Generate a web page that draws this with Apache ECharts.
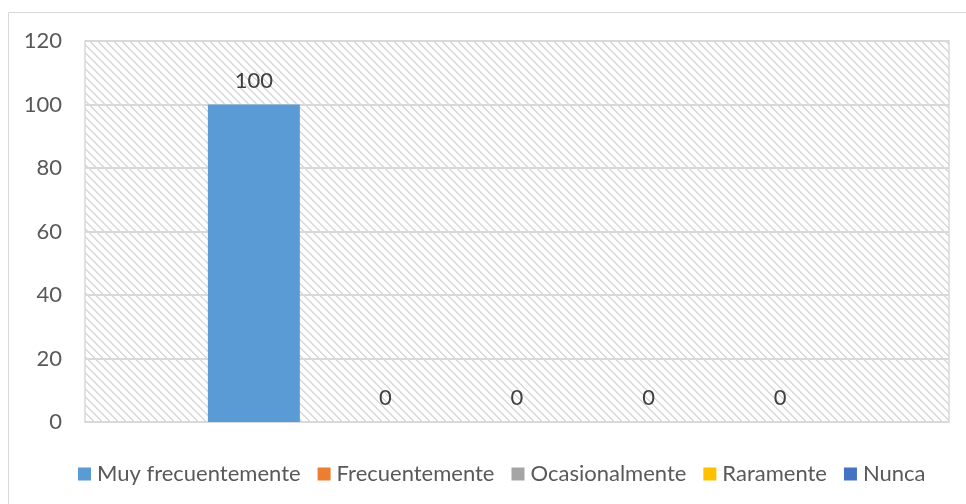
<!DOCTYPE html>
<html><head><meta charset="utf-8">
<script src="https://cdn.jsdelivr.net/npm/echarts@6/dist/echarts.min.js"></script>
<style>html,body{margin:0;padding:0;background:#fff}#c{width:966px;height:504px}</style>
</head><body><div id="c"></div><script>
const categories = [''];
const seriesNames = ['Muy frecuentemente', 'Frecuentemente', 'Ocasionalmente', 'Raramente', 'Nunca'];
const seriesValues = [[100], [0], [0], [0], [0]];
const seriesColors = ['#5B9BD5', '#ED7D31', '#A5A5A5', '#FFC000', '#4472C4'];
const yMin = 0, yMax = 120, yStep = 20;

// hatch pattern tile
const tile = document.createElement('canvas');
tile.width = 8; tile.height = 8;
const tc = tile.getContext('2d');
tc.fillStyle = '#ffffff'; tc.fillRect(0, 0, 8, 8);
tc.fillStyle = '#dadada';
for (let i = 0; i < 8; i++) { tc.fillRect(i, i, 1, 1); tc.fillRect((i + 1) % 8, i, 1, 1); }

const FONT = 'Lato';
const chart = echarts.init(document.getElementById('c'), null, {renderer: 'canvas'});
chart.setOption({
  animation: false,
  textStyle: {fontFamily: FONT},
  graphic: [{
    type: 'rect', silent: true, z: -10,
    shape: {x: 8.5, y: 12.5, width: 1200, height: 1200},
    style: {fill: 'none', stroke: '#d9d9d9', lineWidth: 1}
  }],
  grid: {
    left: 85, right: 17, top: 41, bottom: 82,
    outerBoundsMode: 'none', containLabel: false,
    show: true, borderColor: '#d9d9d9', borderWidth: 1.5,
    backgroundColor: {image: tile, repeat: 'repeat'}
  },
  legend: {
    data: seriesNames,
    left: 73, top: 458,
    icon: 'rect', itemWidth: 13, itemHeight: 13, itemGap: 17,
    textStyle: {fontFamily: FONT, fontSize: 22, color: '#595959', padding: [0, 0, 0, 1]}
  },
  xAxis: {
    type: 'category', data: categories,
    axisLine: {show: true, lineStyle: {color: '#d9d9d9', width: 1.5}},
    axisTick: {show: false}, axisLabel: {show: false}
  },
  yAxis: {
    type: 'value', min: yMin, max: yMax, interval: yStep,
    axisLine: {show: false}, axisTick: {show: false},
    splitLine: {lineStyle: {color: '#d9d9d9', width: 2}},
    axisLabel: {fontFamily: FONT, fontSize: 22, color: '#595959', margin: 23}
  },
  series: seriesNames.map((n, i) => ({
    name: n, type: 'bar', data: seriesValues[i],
    barWidth: 92, barGap: '43%',
    itemStyle: {color: seriesColors[i]},
    label: {show: true, position: 'top', distance: 13, fontFamily: FONT, fontSize: 22, color: '#404040'}
  }))
});
</script></body></html>
